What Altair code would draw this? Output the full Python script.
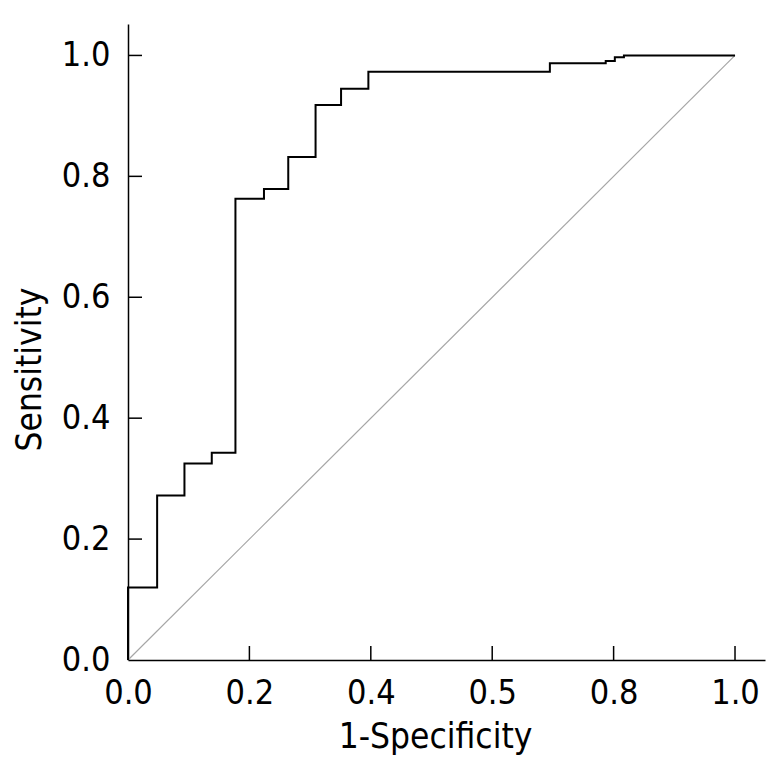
import altair as alt
import pandas as pd

# ROC curve vertices (step-before staircase)
fpr = [0.0, 0.048, 0.093, 0.138, 0.177, 0.224, 0.264, 0.309, 0.351, 0.396, 0.695, 0.787, 0.802, 0.817, 1.0]
tpr = [0.0, 0.120, 0.272, 0.325, 0.343, 0.763, 0.779, 0.832, 0.918, 0.945, 0.973, 0.987, 0.991, 0.997, 1.0]

# reference diagonal
ref_x = [0.0, 1.0]
ref_y = [0.0, 1.0]

# axis ticks and their labels (as printed in the figure)
x_ticks = [0.0, 0.2, 0.4, 0.6, 0.8, 1.0]
x_tick_labels = ["0.0", "0.2", "0.4", "0.5", "0.8", "1.0"]
y_ticks = [0.0, 0.2, 0.4, 0.6, 0.8, 1.0]
y_tick_labels = ["0.0", "0.2", "0.4", "0.6", "0.8", "1.0"]

FONT = "DejaVu Sans Condensed, Liberation Sans, sans-serif"
W, H = 637, 636

def label_expr(vals, labels):
    expr = "''"
    for v, l in reversed(list(zip(vals, labels))):
        expr = f"abs(datum.value - {v}) < 1e-6 ? '{l}' : ({expr})"
    return expr

xs = alt.Scale(domain=[0, 1.0494], nice=False, zero=False)
ys = alt.Scale(domain=[0, 1.052], nice=False, zero=False)

roc_df = pd.DataFrame({"x": fpr, "y": tpr, "o": list(range(len(fpr)))})
ref_df = pd.DataFrame({"x": ref_x, "y": ref_y})
xt_df = pd.DataFrame({"x": x_ticks[1:]})
yt_df = pd.DataFrame({"y": y_ticks[1:]})

x_axis = alt.Axis(
    values=x_ticks, labelExpr=label_expr(x_ticks, x_tick_labels), ticks=False, grid=False,
    domainColor="black", domainWidth=1.5, labelFont=FONT, labelFontSize=34, labelColor="black",
    labelPadding=16, labelFlush=False, labelOverlap=False,
    title="1-Specificity", titleFont=FONT, titleFontSize=35, titleFontWeight="normal", titleColor="black",
    titleX=307, titleY=87, titleBaseline="alphabetic", titleAnchor="start", titleAlign="center",
)
y_axis = alt.Axis(
    values=y_ticks, labelExpr=label_expr(y_ticks, y_tick_labels), ticks=False, grid=False,
    domainColor="black", domainWidth=1.5, labelFont=FONT, labelFontSize=34, labelColor="black",
    labelPadding=18, labelFlush=False, labelOverlap=False,
    title="Sensitivity", titleFont=FONT, titleFontSize=35, titleFontWeight="normal", titleColor="black",
    titleX=-88, titleY=345, titleAngle=-90, titleBaseline="alphabetic", titleAlign="center",
)

ref = alt.Chart(ref_df).mark_line(color="#a6a6a6", strokeWidth=1.2).encode(
    x=alt.X("x:Q", scale=xs, axis=x_axis),
    y=alt.Y("y:Q", scale=ys, axis=y_axis),
)
roc = alt.Chart(roc_df).mark_line(color="black", strokeWidth=2, interpolate="step-before").encode(
    x=alt.X("x:Q", scale=xs),
    y=alt.Y("y:Q", scale=ys),
    order="o:Q",
)
xticks = alt.Chart(xt_df).mark_rule(color="black", strokeWidth=1.5).encode(
    x=alt.X("x:Q", scale=xs),
    y=alt.value(H),
    y2=alt.value(H - 14),
)
yticks = alt.Chart(yt_df).mark_rule(color="black", strokeWidth=1.5).encode(
    y=alt.Y("y:Q", scale=ys),
    x=alt.value(0),
    x2=alt.value(14),
)

chart = alt.layer(ref, roc, xticks, yticks).properties(
    width=W, height=H,
    autosize=alt.AutoSizeParams(type="none"),
    padding={"left": 120, "top": 16, "right": 10, "bottom": 95},
    background="white",
).configure_view(stroke=None)

chart.save("out.html", embed_options={"renderer": "svg", "actions": False})
